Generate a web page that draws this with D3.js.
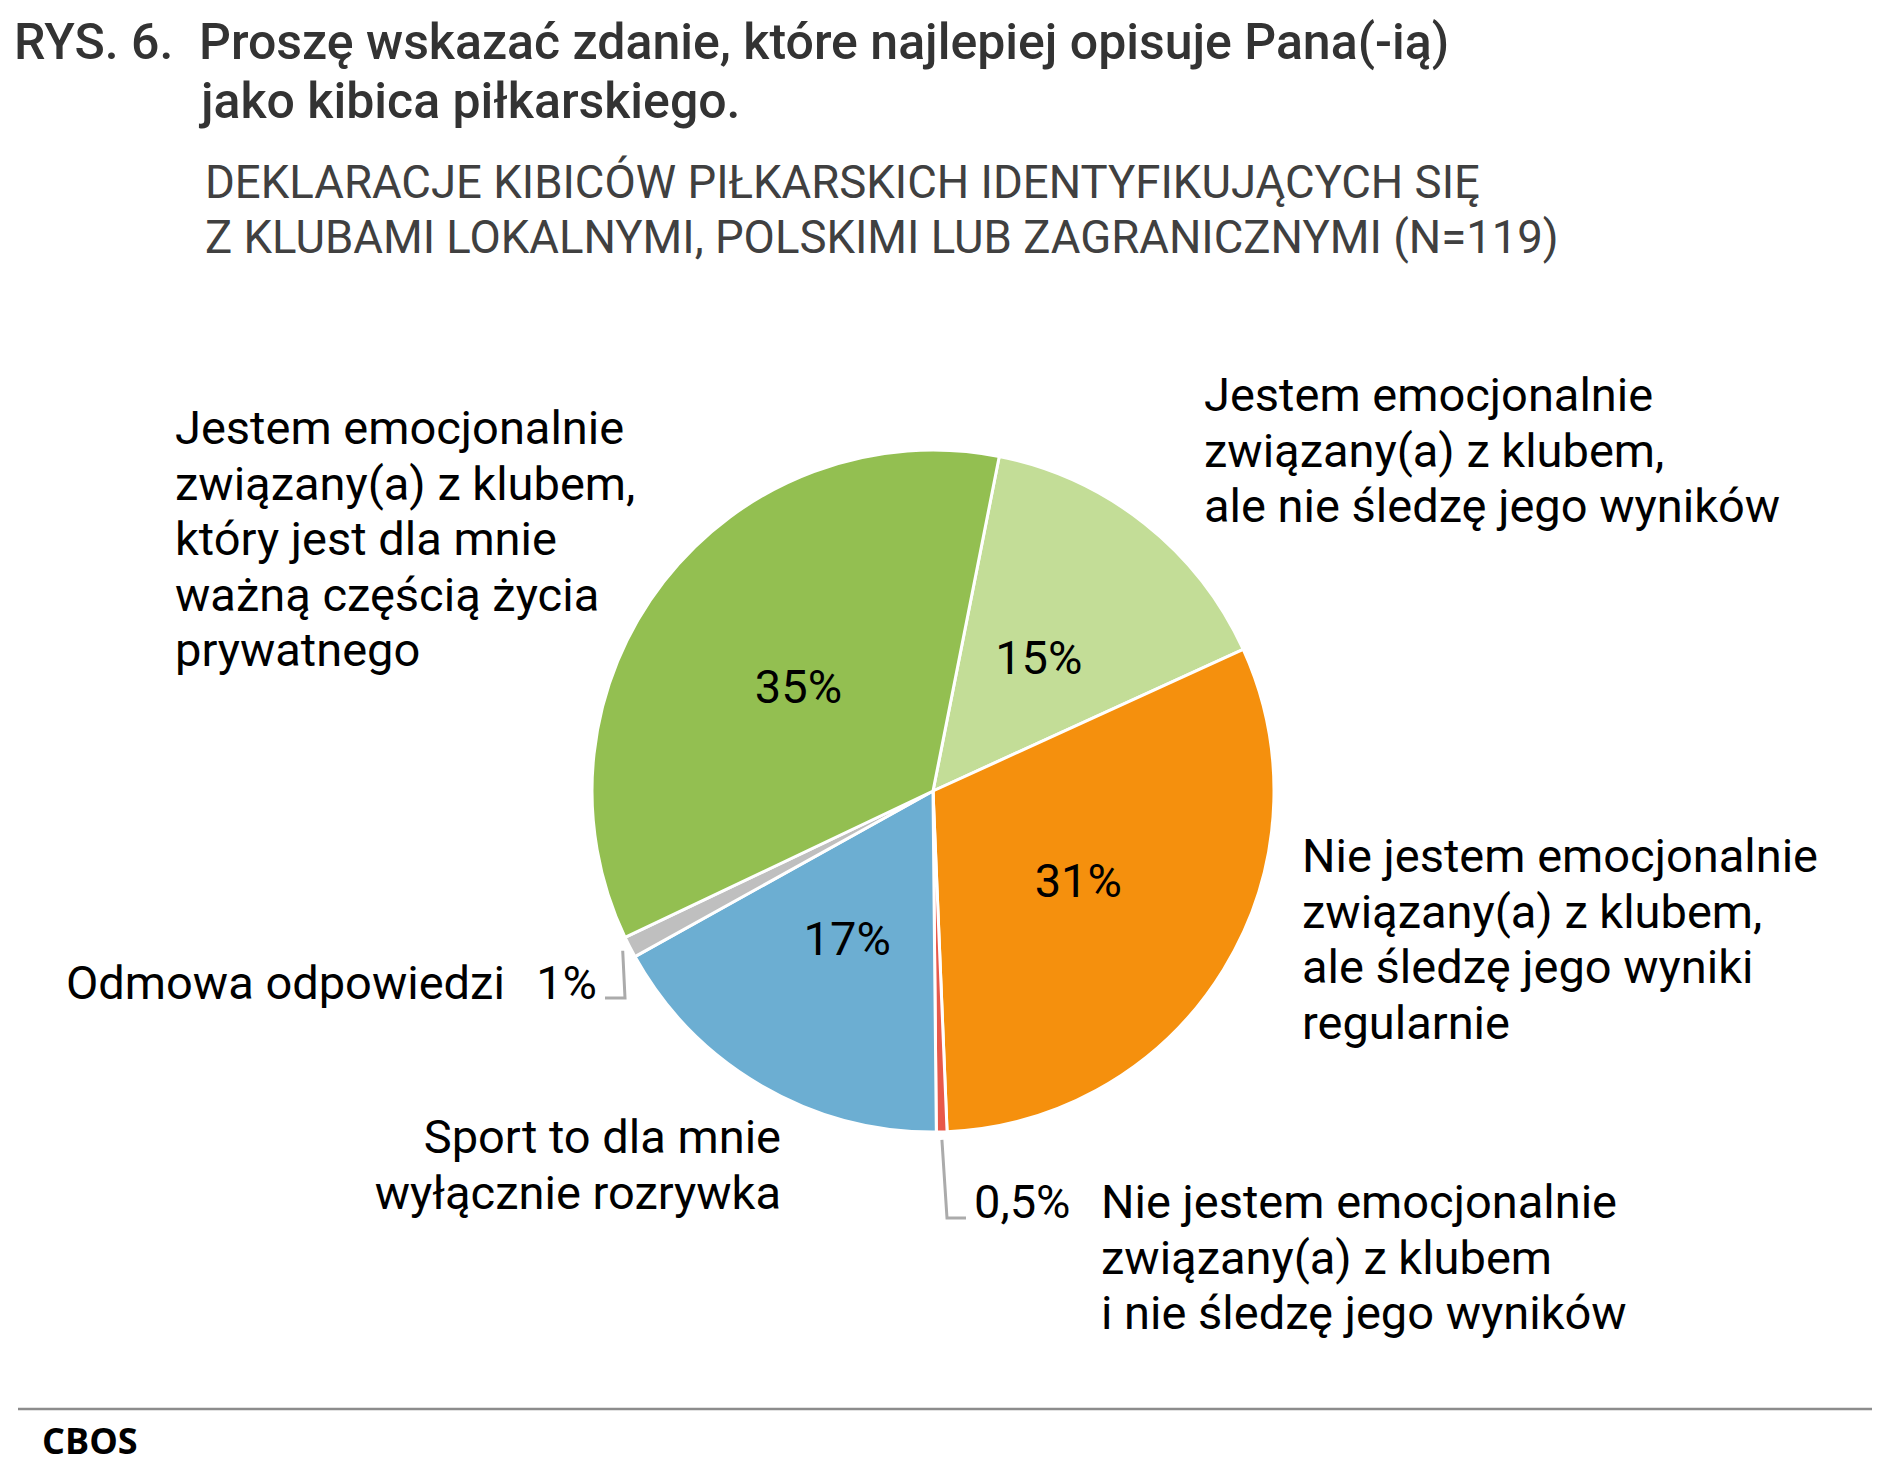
<!DOCTYPE html>
<html>
<head>
<meta charset="utf-8">
<script src="https://cdn.jsdelivr.net/npm/d3@7"></script>
<style>
  body { margin: 0; background: #fff; }
  svg { display: block; font-family: Roboto, "Noto Sans", sans-serif; }
</style>
</head>
<body>
<svg id="chart" width="1891" height="1473"></svg>
<script>
// data, clockwise from the top-right boundary
const categories = [
  "Jestem emocjonalnie związany(a) z klubem, ale nie śledzę jego wyników",
  "Nie jestem emocjonalnie związany(a) z klubem, ale śledzę jego wyniki regularnie",
  "Nie jestem emocjonalnie związany(a) z klubem i nie śledzę jego wyników",
  "Sport to dla mnie wyłącznie rozrywka",
  "Odmowa odpowiedzi",
  "Jestem emocjonalnie związany(a) z klubem, który jest dla mnie ważną częścią życia prywatnego"
];
const values = [15, 31, 0.5, 17, 1, 35];
const valueLabels = ["15%", "31%", "0,5%", "17%", "1%", "35%"];
const colors = ["#C3DD97", "#F5900D", "#E8594A", "#6CAED2", "#BFBFBF", "#93BF51"];

// wrapped label lines for each slice
const labelLines = [
  ["Jestem emocjonalnie", "związany(a) z klubem,", "ale nie śledzę jego wyników"],
  ["Nie jestem emocjonalnie", "związany(a) z klubem,", "ale śledzę jego wyniki", "regularnie"],
  ["Nie jestem emocjonalnie", "związany(a) z klubem", "i nie śledzę jego wyników"],
  ["Sport to dla mnie", "wyłącznie rozrywka"],
  ["Odmowa odpowiedzi"],
  ["Jestem emocjonalnie", "związany(a) z klubem,", "który jest dla mnie", "ważną częścią życia", "prywatnego"]
];

const svg = d3.select("#chart");

const cx = 933, cy = 791, R = 341;
const startDeg = 11.2;
const FS = 47;

const pie = d3.pie().sort(null).value(d => d)
  .startAngle(startDeg * Math.PI / 180)
  .endAngle((startDeg + 360) * Math.PI / 180);
const arcs = pie(values);
const arc = d3.arc().innerRadius(0).outerRadius(R);

const g = svg.append("g").attr("transform", `translate(${cx},${cy})`);

g.selectAll("path.slice")
  .data(arcs)
  .join("path")
  .attr("class", "slice")
  .attr("d", arc)
  .attr("fill", (d, i) => colors[i])
  .attr("stroke", "#fff")
  .attr("stroke-width", 3)
  .attr("stroke-linejoin", "round");

// inside percentages for big slices
g.selectAll("text.pct")
  .data(arcs.filter(d => d.value >= 5))
  .join("text")
  .attr("class", "pct")
  .attr("transform", d => `translate(${arc.centroid(d)})`)
  .attr("text-anchor", "middle")
  .attr("dy", "0.36em")
  .attr("font-size", FS)
  .attr("fill", "#000")
  .text(d => valueLabels[d.index]);

// title
const tfs = 50;
svg.append("text").attr("x", 14).attr("y", 59)
  .attr("font-size", tfs).attr("font-weight", 500).attr("fill", "#333")
  .text("RYS. 6.");
svg.append("text").attr("x", 199).attr("y", 59)
  .attr("font-size", tfs).attr("font-weight", 500).attr("fill", "#333")
  .text("Proszę wskazać zdanie, które najlepiej opisuje Pana(-ią)");
svg.append("text").attr("x", 201).attr("y", 118)
  .attr("font-size", tfs).attr("font-weight", 500).attr("fill", "#333")
  .text("jako kibica piłkarskiego.");

const subtitle = ["DEKLARACJE KIBICÓW PIŁKARSKICH IDENTYFIKUJĄCYCH SIĘ",
                  "Z KLUBAMI LOKALNYMI, POLSKIMI LUB ZAGRANICZNYMI (N=119)"];
svg.append("g").selectAll("text").data(subtitle).join("text")
  .attr("x", 205).attr("y", (d, i) => 198 + i * 55)
  .attr("font-size", 45.5).attr("fill", "#404040")
  .text(d => d);

// outside labels: [x, first baseline, anchor]
const labelPos = [
  [1204, 411, "start"],
  [1302, 872, "start"],
  [1101, 1218, "start"],
  [781, 1153, "end"],
  [66, 999, "start"],
  [175, 444, "start"]
];
const lineH = 55.5;
labelLines.forEach((lines, i) => {
  const [x, y, anchor] = labelPos[i];
  svg.append("text")
    .attr("font-size", FS).attr("fill", "#000")
    .attr("text-anchor", anchor)
    .selectAll("tspan").data(lines).join("tspan")
    .attr("x", x).attr("y", (d, j) => y + j * lineH)
    .text(d => d);
});

// small slices: value outside with leader line
function edgePoint(d, r) {
  const a = (d.startAngle + d.endAngle) / 2;
  return [cx + r * Math.sin(a), cy - r * Math.cos(a)];
}
const smallOut = [
  { i: 2, elbow: [947, 1218], end: [966, 1218], text: [974, 1218], anchor: "start" },
  { i: 4, elbow: [625, 998], end: [605, 998], text: [597, 999], anchor: "end" }
];
smallOut.forEach(s => {
  const p0 = edgePoint(arcs[s.i], R + 8);
  svg.append("path")
    .attr("d", d3.line()([p0, s.elbow, s.end]))
    .attr("fill", "none").attr("stroke", "#ABABAB").attr("stroke-width", 3);
  svg.append("text")
    .attr("x", s.text[0]).attr("y", s.text[1])
    .attr("text-anchor", s.anchor)
    .attr("font-size", FS).attr("fill", "#000")
    .text(valueLabels[s.i]);
});

// footer
svg.append("line").attr("x1", 18).attr("x2", 1872).attr("y1", 1409).attr("y2", 1409)
  .attr("stroke", "#8C8C8C").attr("stroke-width", 2.5);
svg.append("text").attr("x", 42).attr("y", 1454)
  .attr("font-family", "'Open Sans', 'Noto Sans', sans-serif")
  .attr("font-size", 36).attr("font-weight", 700).attr("fill", "#000")
  .text("CBOS");
</script>
</body>
</html>
